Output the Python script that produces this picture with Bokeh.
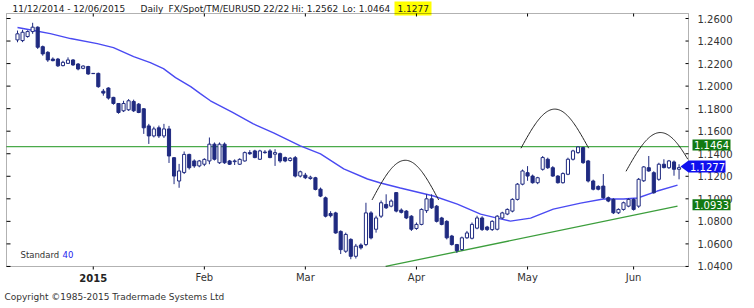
import numpy as np
from bokeh.plotting import figure
from bokeh.models import Range1d, Label, PolyAnnotation, ColumnDataSource, BoxAnnotation
from bokeh.core.properties import value
from bokeh.embed import file_html
from bokeh.resources import INLINE

# ---------------- data ----------------
opens = [1.2410, 1.2404, 1.2440, 1.2484, 1.2523, 1.2350, 1.2300, 1.2240, 1.2240, 1.2182,
         1.2202, 1.2232, 1.2196, 1.2158, 1.2174, 1.2113, 1.2113, 1.1955, 1.1983, 1.1900,
         1.1846, 1.1781, 1.1790, 1.1864, 1.1840, 1.1799, 1.1647, 1.1558, 1.1630, 1.1558,
         1.1620, 1.1365, 1.1158, 1.1234, 1.1394, 1.1336, 1.1292, 1.1307, 1.1336, 1.1485,
         1.1320, 1.1485, 1.1336, 1.1330, 1.1307, 1.1336, 1.1410, 1.1425, 1.1351, 1.1415,
         1.1425, 1.1396, 1.1401, 1.1366, 1.1340, 1.1365, 1.1202, 1.1210, 1.1180, 1.1187,
         1.1086, 1.1009, 1.0870, 1.0875, 1.0711, 1.0535, 1.0640, 1.0490, 1.0590, 1.0594,
         1.0875, 1.0730, 1.0846, 1.0950, 1.0935, 1.1055, 1.0900, 1.0891, 1.0846, 1.0737,
         1.0773, 1.0895, 1.1000, 1.0935, 1.0830, 1.0800, 1.0670, 1.0594, 1.0550, 1.0654,
         1.0650, 1.0740, 1.0830, 1.0750, 1.0727, 1.0730, 1.0830, 1.0865, 1.0891, 1.0995,
         1.1130, 1.1232, 1.1202, 1.1143, 1.1262, 1.1351, 1.1276, 1.1202, 1.1143, 1.1218,
         1.1351, 1.1410, 1.1455, 1.1336, 1.1158, 1.1110, 1.1113, 1.1010, 1.0995, 1.0876,
         1.0906, 1.0935, 1.0995, 1.0935, 1.1160, 1.1276, 1.1232, 1.1173, 1.1307, 1.1276,
         1.1327, 1.1262]
highs = [1.2493, 1.2500, 1.2495, 1.2562, 1.2530, 1.2360, 1.2310, 1.2255, 1.2250, 1.2225,
         1.2255, 1.2240, 1.2205, 1.2185, 1.2180, 1.2116, 1.2120, 1.1975, 1.1990, 1.1905,
         1.1850, 1.1870, 1.1885, 1.1880, 1.1850, 1.1805, 1.1665, 1.1640, 1.1650, 1.1665,
         1.1647, 1.1370, 1.1310, 1.1420, 1.1400, 1.1350, 1.1345, 1.1360, 1.1544, 1.1500,
         1.1500, 1.1500, 1.1345, 1.1350, 1.1360, 1.1420, 1.1432, 1.1435, 1.1435, 1.1432,
         1.1440, 1.1440, 1.1410, 1.1375, 1.1370, 1.1380, 1.1250, 1.1230, 1.1205, 1.1195,
         1.1100, 1.1020, 1.0890, 1.0885, 1.0720, 1.0700, 1.0650, 1.0600, 1.0605, 1.0965,
         1.0890, 1.0850, 1.0985, 1.1040, 1.0995, 1.1060, 1.0915, 1.0900, 1.0855, 1.0790,
         1.0915, 1.1040, 1.1040, 1.0945, 1.0840, 1.0810, 1.0680, 1.0600, 1.0665, 1.0715,
         1.0790, 1.0850, 1.0845, 1.0760, 1.0810, 1.0855, 1.0885, 1.0915, 1.1005, 1.1140,
         1.1260, 1.1290, 1.1215, 1.1195, 1.1380, 1.1365, 1.1290, 1.1210, 1.1235, 1.1365,
         1.1435, 1.1465, 1.1462, 1.1345, 1.1170, 1.1120, 1.1220, 1.1020, 1.1005, 1.0915,
         1.0975, 1.1005, 1.1005, 1.1185, 1.1290, 1.1380, 1.1245, 1.1320, 1.1351, 1.1345,
         1.1340, 1.1307]
lows = [1.2389, 1.2390, 1.2430, 1.2464, 1.2330, 1.2270, 1.2215, 1.2220, 1.2170, 1.2175,
        1.2196, 1.2180, 1.2140, 1.2150, 1.2100, 1.2108, 1.1985, 1.1915, 1.1880, 1.1835,
        1.1755, 1.1770, 1.1780, 1.1770, 1.1760, 1.1576, 1.1487, 1.1545, 1.1540, 1.1540,
        1.1318, 1.1130, 1.1098, 1.1220, 1.1260, 1.1275, 1.1280, 1.1290, 1.1307, 1.1340,
        1.1310, 1.1310, 1.1300, 1.1300, 1.1300, 1.1330, 1.1390, 1.1360, 1.1345, 1.1400,
        1.1360, 1.1292, 1.1320, 1.1325, 1.1330, 1.1190, 1.1190, 1.1175, 1.1170, 1.1075,
        1.1015, 1.0835, 1.0835, 1.0690, 1.0510, 1.0520, 1.0464, 1.0470, 1.0550, 1.0580,
        1.0640, 1.0700, 1.0830, 1.0910, 1.0925, 1.0880, 1.0870, 1.0820, 1.0715, 1.0725,
        1.0765, 1.0875, 1.0910, 1.0790, 1.0765, 1.0640, 1.0585, 1.0520, 1.0540, 1.0645,
        1.0640, 1.0730, 1.0715, 1.0715, 1.0715, 1.0720, 1.0820, 1.0855, 1.0880, 1.0985,
        1.1120, 1.1160, 1.1135, 1.1130, 1.1250, 1.1265, 1.1195, 1.1135, 1.1135, 1.1210,
        1.1340, 1.1400, 1.1310, 1.1145, 1.1075, 1.1075, 1.1000, 1.0970, 1.0865, 1.0865,
        1.0895, 1.0925, 1.0895, 1.0920, 1.1150, 1.1240, 1.1045, 1.1160, 1.1270, 1.1265,
        1.1205, 1.1173]
closes = [1.2464, 1.2478, 1.2484, 1.2523, 1.2345, 1.2286, 1.2232, 1.2226, 1.2180, 1.2211,
          1.2232, 1.2188, 1.2152, 1.2178, 1.2108, 1.2111, 1.1995, 1.1938, 1.1894, 1.1846,
          1.1766, 1.1846, 1.1870, 1.1781, 1.1766, 1.1630, 1.1558, 1.1620, 1.1558, 1.1620,
          1.1380, 1.1202, 1.1247, 1.1394, 1.1276, 1.1292, 1.1336, 1.1350, 1.1485, 1.1351,
          1.1485, 1.1320, 1.1307, 1.1336, 1.1350, 1.1410, 1.1400, 1.1366, 1.1425, 1.1410,
          1.1366, 1.1410, 1.1336, 1.1336, 1.1360, 1.1202, 1.1240, 1.1187, 1.1192, 1.1083,
          1.1024, 1.0846, 1.0850, 1.0697, 1.0549, 1.0684, 1.0490, 1.0580, 1.0565, 1.0875,
          1.0653, 1.0830, 1.0965, 1.0920, 1.0980, 1.0891, 1.0880, 1.0830, 1.0730, 1.0773,
          1.0906, 1.1000, 1.0920, 1.0800, 1.0773, 1.0654, 1.0594, 1.0540, 1.0654, 1.0697,
          1.0773, 1.0830, 1.0727, 1.0727, 1.0800, 1.0846, 1.0875, 1.0906, 1.0995, 1.1130,
          1.1247, 1.1202, 1.1143, 1.1187, 1.1366, 1.1276, 1.1202, 1.1143, 1.1224, 1.1351,
          1.1425, 1.1460, 1.1321, 1.1158, 1.1085, 1.1085, 1.1010, 1.0980, 1.0876, 1.0906,
          1.0965, 1.0995, 1.0906, 1.1173, 1.1283, 1.1247, 1.1054, 1.1307, 1.1277, 1.1336,
          1.1262, 1.1277]
bar_index = list(range(len(closes)))

# 40-period moving average, read at sample bars
ma_index = [0, 3.2, 6.5, 10.5, 15.8, 19, 23, 26.3, 28.9, 31.3, 34.3, 36.2, 38.2, 42.5,
            46.7, 50.7, 56, 60, 64.6, 69.3, 71.9, 75.8, 82.4, 87.1, 91.7, 95, 97.6,
            101.6, 106.1, 111.5, 116, 120, 122.8, 126.7, 130.7]
ma_value = [1.2520, 1.2493, 1.2466, 1.2422, 1.2377, 1.2342, 1.2262, 1.2208, 1.2155, 1.2075,
            1.1995, 1.1933, 1.1870, 1.1770, 1.1665, 1.1585, 1.1470, 1.1399, 1.1265, 1.1176,
            1.1140, 1.1096, 1.1025, 1.0953, 1.0864, 1.0829, 1.0802, 1.0829, 1.0909, 1.0962,
            1.0998, 1.0998, 1.1007, 1.1069, 1.1122]

month_tick_index = [15, 37, 57, 79, 101, 122]
month_labels = ["2015", "Feb", "Mar", "Apr", "May", "Jun"]
price_ticks = [1.04, 1.06, 1.08, 1.10, 1.12, 1.14, 1.16, 1.18, 1.20, 1.22, 1.24, 1.26]

resistance_level = 1.1464
trend_x = [72.9, 130.7]
trend_y = [1.0400, 1.0935]
trend_label = 1.0933
last_close = 1.1277

# three hand-drawn arches: start bar, end bar, base price, top price
arch_start = [70.2, 99.7, 120.5]
arch_end = [83.4, 113.1, 134.1]
arch_base = [1.0990, 1.1449, 1.1244]
arch_top = [1.1342, 1.1796, 1.1588]

header_parts = ["11/12/2014 - 12/06/2015", "Daily", "FX/Spot/TM/EURUSD 22/22",
                "Hi: 1.2562", "Lo: 1.0464"]
indicator_name = "Standard"
indicator_period = "40"
copyright_text = "Copyright \u00a91985-2015 Tradermade Systems Ltd"

# ---------------- geometry ----------------
W, H = 754, 308
FL, FT, FW, FH = 6, 13, 682, 253          # inner chart frame (px)
X0, X1 = (FL - 17) / 5.05, (FL + FW - 17) / 5.05
Y1 = 1.26 + (18 - FT) / 1127.0
Y0 = Y1 - FH / 1127.0


def dx(px):
    return X0 + (px - FL) * (X1 - X0) / FW


def dy(py):
    return Y1 - (py - FT) * (Y1 - Y0) / FH


def level_px(v):
    return FT + (Y1 - v) / (Y1 - Y0) * FH


NAVY = "#1f2a80"
FONT = "DejaVu Sans"
TXT = "#333333"

p = figure(width=W, height=H, output_backend="svg", toolbar_location=None,
           x_range=Range1d(dx(0), dx(W)), y_range=Range1d(dy(H), dy(0)),
           x_axis_type=None, y_axis_type=None, min_border=0)
p.xgrid.visible = False
p.ygrid.visible = False
p.outline_line_color = None
p.background_fill_color = "white"
p.border_fill_color = "white"

# inner frame
p.add_layout(BoxAnnotation(left=X0, right=X1, bottom=Y0, top=Y1, fill_alpha=0,
                           line_color="black", line_width=1))

# ticks (right inward, left inward, bottom outward, top inward)
n = len(price_ticks)
p.segment(x0=[dx(FL + FW - 3)] * n, x1=[X1] * n, y0=price_ticks, y1=price_ticks, line_color="black")
p.segment(x0=[X0] * n, x1=[dx(FL + 4)] * n, y0=price_ticks, y1=price_ticks, line_color="black")
m = len(month_tick_index)
p.segment(x0=month_tick_index, x1=month_tick_index, y0=[Y0] * m, y1=[dy(FT + FH + 3)] * m, line_color="black")
p.segment(x0=month_tick_index, x1=month_tick_index, y0=[Y1] * m, y1=[dy(FT + 3)] * m, line_color="black")

# price labels
p.text(x=[dx(697)] * n, y=price_ticks, text=[f"{t:.4f}" for t in price_ticks],
       text_font=value(FONT), text_font_size="10px", text_color=TXT, text_baseline="middle")

# month labels
p.text(x=month_tick_index[1:], y=[dy(277)] * (m - 1), text=month_labels[1:],
       text_font=value(FONT), text_font_size="10px", text_color=TXT,
       text_align="center", text_baseline="middle")
p.text(x=month_tick_index[:1], y=[dy(277)], text=month_labels[:1],
       text_font=value(FONT), text_font_size="10px", text_font_style="bold", text_color="#222222",
       text_align="center", text_baseline="middle")

# reference lines
p.line([X0, X1], [resistance_level, resistance_level], line_color="#4aaa4a", line_width=1.2)
p.line(trend_x, trend_y, line_color="#3c9e3c", line_width=1.3)

# moving average
p.line(ma_index, ma_value, line_color="#4a4af2", line_width=1.4)

# arches
for s, e, b, t in zip(arch_start, arch_end, arch_base, arch_top):
    tt = np.linspace(0, 1, 80)
    ax = s + (e - s) * tt
    ay = b + (t - b) * np.sin(np.pi * tt)
    keep = ax <= X1
    p.line(ax[keep], ay[keep], line_color="#222222", line_width=1)

# candles
o = np.array(opens); c = np.array(closes)
up = c >= o
src = ColumnDataSource(dict(x=bar_index, top=np.maximum(o, c), bottom=np.minimum(o, c),
                            high=highs, low=lows,
                            fill=["white" if u else NAVY for u in up]))
p.segment(x0="x", y0="low", x1="x", y1="high", source=src, line_color=NAVY, line_width=1)
p.vbar(x="x", width=0.62, top="top", bottom="bottom", source=src,
       fill_color="fill", line_color=NAVY, line_width=1)

# "Standard 40"
p.text(x=[dx(20)], y=[dy(254)], text=[indicator_name], text_font=value(FONT), text_font_size="8.5px",
       text_color=TXT, text_baseline="middle")
p.text(x=[dx(62)], y=[dy(254)], text=[indicator_period], text_font=value(FONT), text_font_size="8.5px",
       text_color="#2222ee", text_baseline="middle")

# right-hand value tags
for v in [resistance_level, trend_label]:
    cy = level_px(v) - 1.5
    p.add_layout(PolyAnnotation(xs=[dx(692), dx(730), dx(730), dx(692)],
                                ys=[dy(cy - 5.5), dy(cy - 5.5), dy(cy + 5.5), dy(cy + 5.5)],
                                fill_color="#127a12", fill_alpha=1, line_color=None, level="overlay"))
    p.add_layout(Label(x=dx(711), y=dy(cy), text=f"{v:.4f}", text_font=FONT, text_font_size="10px",
                       text_color="white", text_align="center", text_baseline="middle", level="overlay"))

cy = level_px(last_close) - 1
p.add_layout(PolyAnnotation(xs=[dx(680), dx(688), dx(725), dx(725), dx(688)],
                            ys=[dy(cy), dy(cy - 6), dy(cy - 6), dy(cy + 6), dy(cy + 6)],
                            fill_color="#1010ee", fill_alpha=1, line_color=None, level="overlay"))
p.add_layout(Label(x=dx(707), y=dy(cy), text=f"{last_close:.4f}", text_font=FONT, text_font_size="10px",
                   text_color="white", text_align="center", text_baseline="middle", level="overlay"))

# header
header_x = [12, 140, 168, 291, 342]
p.text(x=[dx(hx) for hx in header_x], y=[dy(8)] * len(header_x), text=header_parts,
       text_font=value(FONT), text_font_size="9px", text_color="#222222", text_baseline="middle")
p.add_layout(PolyAnnotation(xs=[dx(394), dx(431), dx(431), dx(394)],
                            ys=[dy(1), dy(1), dy(15), dy(15)],
                            fill_color="#ffff00", fill_alpha=1, line_color=None, level="underlay"))
p.text(x=[dx(397)], y=[dy(8)], text=[f"{last_close:.4f}"], text_font=value(FONT), text_font_size="9px",
       text_color="#222222", text_baseline="middle")

# footer
p.text(x=[dx(4)], y=[dy(296)], text=[copyright_text], text_font=value(FONT), text_font_size="9px",
       text_color=TXT, text_baseline="middle")

open("out.html", "w").write(file_html(p, INLINE))
